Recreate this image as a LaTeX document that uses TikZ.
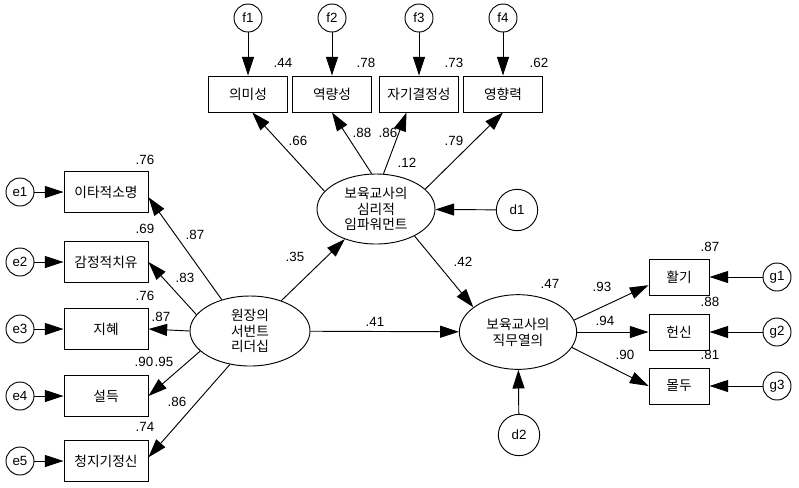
\documentclass[tikz,border=0pt]{standalone}
\usepackage{fontspec}
\setmainfont{Liberation Sans}
\newfontfamily\kr{Noto Sans CJK KR}
\usetikzlibrary{arrows.meta,shapes.geometric}
\tikzset{
	->,
	>={Triangle[length=14pt,width=9pt]},
	every node/.style={font=\fontsize{10}{11.5}\selectfont},
	obs/.style={draw, rectangle, inner sep=0pt, font=\kr\fontsize{10.3}{11.8}\selectfont},
	topbox/.style={obs, minimum width=59pt, minimum height=27pt},
	leftbox/.style={obs, minimum width=63pt, minimum height=31pt},
	rightbox/.style={obs, minimum width=45pt, minimum height=27pt},
	err/.style={draw, circle, inner sep=0pt, minimum size=21pt},
	dist/.style={draw, circle, inner sep=0pt, minimum size=31pt},
	latent/.style={draw, ellipse, inner sep=0pt, align=center, font=\kr\fontsize{10.3}{11.8}\selectfont},
	coef/.style={inner sep=1pt},
}

\begin{document}
\begin{tikzpicture}[x=0.75pt, y=-0.75pt, line width=0.7pt]
		\useasboundingbox (0,0) rectangle (799,487);

		% latent variables
		\node[latent, minimum width=90pt, minimum height=52.5pt] (sl) at (250,331) {원장의\\서번트\\리더십};
		\node[latent, minimum width=88.5pt, minimum height=52.5pt] (emp) at (376,209) {보육교사의\\심리적\\임파워먼트};
		\node[latent, minimum width=88pt, minimum height=56pt] (eng) at (518,332) {보육교사의\\직무열의};
		\node[dist] (d1) at (517,210) {d1};
		\node[dist] (d2) at (519,435) {d2};

		% empowerment indicators
		\node[topbox] (s1) at (248,94) {의미성};
		\node[topbox] (s2) at (332,94) {역량성};
		\node[topbox] (s3) at (419,94) {자기결정성};
		\node[topbox] (s4) at (503,94) {영향력};
		\node[err] (f1) at (248,18) {f1};
		\node[err] (f2) at (332,18) {f2};
		\node[err] (f3) at (419,18) {f3};
		\node[err] (f4) at (503,18) {f4};

		% leadership indicators
		\node[leftbox] (b1) at (106,192) {이타적소명};
		\node[leftbox] (b2) at (106,262) {감정적치유};
		\node[leftbox] (b3) at (106,329) {지혜};
		\node[leftbox] (b4) at (106,396) {설득};
		\node[leftbox] (b5) at (106,461) {청지기정신};
		\node[err] (e1) at (20,192) {e1};
		\node[err] (e2) at (20,262) {e2};
		\node[err] (e3) at (20,329) {e3};
		\node[err] (e4) at (20,396) {e4};
		\node[err] (e5) at (20,461) {e5};

		% engagement indicators
		\node[rightbox] (r1) at (679,277) {활기};
		\node[rightbox] (r2) at (679,332) {헌신};
		\node[rightbox] (r3) at (679,386) {몰두};
		\node[err] (g1) at (777,277) {g1};
		\node[err] (g2) at (777,332) {g2};
		\node[err] (g3) at (777,386) {g3};

		% error paths
		\path (f1) edge (s1) (f2) edge (s2) (f3) edge (s3) (f4) edge (s4);
		\path (e1) edge (b1) (e2) edge (b2) (e3) edge (b3) (e4) edge (b4) (e5) edge (b5);
		\path (g1) edge (r1) (g2) edge (r2) (g3) edge (r3);
		\path (d1) edge (emp) (d2) edge (eng);

		% loadings
		\path (sl.132) edge (b1.-7)
		(sl.163) edge (b2.east)
		(sl.west) edge (b3.east)
		(sl.-158) edge (b4.east)
		(sl.-121) edge (b5.5);
		\path (emp.161) edge (s1.-77)
		(emp.97) edge (s2.south)
		(emp.78) edge (s3.-124)
		(emp.22) edge (s4.south);
		\path (eng.12) edge (r1.-165)
		(eng.east) edge (r2.west)
		(eng.-16) edge (r3.west);

		% structural paths
		\path (sl) edge (emp)
		(sl) edge (eng)
		(emp.-35) edge (eng.151);

		% estimates
		\node[coef] (rs1) at (283,63) {.44};
		\node[coef] (rs2) at (366,63) {.78};
		\node[coef] (rs3) at (454,63) {.73};
		\node[coef] (rs4) at (539,63) {.62};
		\node[coef] (ls1) at (298,141) {.66};
		\node[coef] (ls2) at (362,133) {.88};
		\node[coef] (ls3) at (388,133) {.86};
		\node[coef] (remp) at (407,163) {.12};
		\node[coef] (ls4) at (454,141) {.79};
		\node[coef] (psl) at (295,257) {.35};
		\node[coef] (pemp) at (463,262) {.42};
		\node[coef] (pdir) at (375,322) {.41};
		\node[coef] (reng) at (550,284) {.47};
		\node[coef] (lr1) at (602,287) {.93};
		\node[coef] (lr2) at (605,321) {.94};
		\node[coef] (lr3) at (625,355) {.90};
		\node[coef] (rr1) at (710,247) {.87};
		\node[coef] (rr2) at (710,302) {.88};
		\node[coef] (rr3) at (710,355) {.81};
		\node[coef] (rb1) at (145,160) {.76};
		\node[coef] (lb1) at (195,235) {.87};
		\node[coef] (rb2) at (145,229) {.69};
		\node[coef] (lb2) at (185,278) {.83};
		\node[coef] (rb3) at (145,296) {.76};
		\node[coef] (lb3) at (161,317) {.87};
		\node[coef] (rb4) at (144,362) {.90};
		\node[coef] (lb4) at (164,362) {.95};
		\node[coef] (lb5) at (177,402) {.86};
		\node[coef] (rb5) at (145,427) {.74};
	\end{tikzpicture}
\end{document}
